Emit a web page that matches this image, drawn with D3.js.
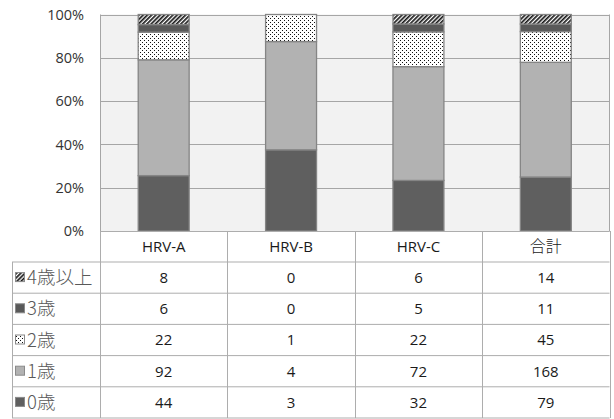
<!DOCTYPE html>
<html>
<head>
<meta charset="utf-8">
<script src="https://cdn.jsdelivr.net/npm/d3@7"></script>
<style>
  html, body { margin: 0; padding: 0; background: #ffffff; }
  svg { display: block; }
</style>
</head>
<body>
<svg id="chart" width="614" height="419"></svg>
<script>
// Categories (columns) and age groups (stack order, bottom to top)
const categories = ["HRV-A", "HRV-B", "HRV-C", "合計"];
const seriesNames = ["0歳", "1歳", "2歳", "3歳", "4歳以上"];

// Counts per age group, in category order
const age0 = [44, 3, 32, 79];
const age1 = [92, 4, 72, 168];
const age2 = [22, 1, 22, 45];
const age3 = [6, 0, 5, 11];
const age4plus = [8, 0, 6, 14];

const yTicks = [0, 0.2, 0.4, 0.6, 0.8, 1.0];

const seriesValues = [age0, age1, age2, age3, age4plus];

const rows = categories.map((c, i) => {
  const r = { category: c };
  seriesNames.forEach((s, k) => { r[s] = seriesValues[k][i]; });
  return r;
});

const svg = d3.select("#chart");
const plot = { left: 100, right: 609.5, top: 14.5, bottom: 231 };
const table = { left: 12, headerBottom: 262, bottom: 418 };

// Fill patterns
const defs = svg.append("defs");
const dots = defs.append("pattern")
  .attr("id", "dots").attr("patternUnits", "userSpaceOnUse")
  .attr("width", 4).attr("height", 4);
dots.append("rect").attr("width", 4).attr("height", 4).attr("fill", "#ffffff");
dots.append("rect").attr("x", 0).attr("y", 0).attr("width", 1).attr("height", 1).attr("fill", "#111");
dots.append("rect").attr("x", 2).attr("y", 2).attr("width", 1).attr("height", 1).attr("fill", "#111");

const hatch = defs.append("pattern")
  .attr("id", "hatch").attr("patternUnits", "userSpaceOnUse")
  .attr("width", 3).attr("height", 3)
  .attr("patternTransform", "rotate(45)");
hatch.append("rect").attr("width", 3).attr("height", 3).attr("fill", "#ffffff");
hatch.append("rect").attr("x", 0).attr("y", 0).attr("width", 1.7).attr("height", 3).attr("fill", "#1a1a1a");

const fills = {
  "0歳": "#5f5f5f",
  "1歳": "#b2b2b2",
  "2歳": "url(#dots)",
  "3歳": "#595959",
  "4歳以上": "url(#hatch)"
};

// Scales
const x = d3.scaleBand().domain(categories).range([plot.left, plot.right]).padding(0);
const y = d3.scaleLinear().domain([0, 1]).range([plot.bottom, plot.top]);

// Plot area background
svg.append("rect")
  .attr("x", plot.left).attr("y", plot.top)
  .attr("width", plot.right - plot.left).attr("height", plot.bottom - plot.top)
  .attr("fill", "#f2f2f2");

// Horizontal gridlines
svg.append("g")
  .selectAll("line")
  .data(yTicks)
  .join("line")
  .attr("x1", plot.left).attr("x2", plot.right)
  .attr("y1", d => Math.round(y(d)) + 0.5).attr("y2", d => Math.round(y(d)) + 0.5)
  .attr("stroke", "#a6a6a6").attr("stroke-width", 1);

// Plot frame sides
svg.append("line")
  .attr("x1", plot.left + 0.5).attr("x2", plot.left + 0.5)
  .attr("y1", plot.top).attr("y2", plot.bottom)
  .attr("stroke", "#a6a6a6");
svg.append("line")
  .attr("x1", plot.right).attr("x2", plot.right)
  .attr("y1", plot.top).attr("y2", plot.bottom)
  .attr("stroke", "#a6a6a6");

// Y axis labels
const yAxis = d3.axisLeft(y).tickValues(yTicks).tickFormat(d3.format(".0%")).tickSize(0).tickPadding(0);
const gy = svg.append("g").attr("transform", `translate(84,0)`).call(yAxis);
gy.select(".domain").remove();
gy.selectAll("text")
  .attr("font-family", "'Open Sans', sans-serif")
  .attr("font-size", 14.5)
  .attr("fill", "#333333");

// 100% stacked bars
const stack = d3.stack().keys(seriesNames).offset(d3.stackOffsetExpand);
const stacked = stack(rows);
const barW = x.bandwidth() * 0.4;

svg.append("g")
  .selectAll("g")
  .data(stacked)
  .join("g")
  .attr("fill", d => fills[d.key])
  .selectAll("rect")
  .data(d => d.filter(p => p[1] - p[0] > 0))
  .join("rect")
  .attr("x", d => x(d.data.category) + (x.bandwidth() - barW) / 2)
  .attr("y", d => y(d[1]))
  .attr("width", barW)
  .attr("height", d => y(d[0]) - y(d[1]))
  .attr("stroke", "#858585")
  .attr("stroke-width", 1.3);

// Data table
const rowOrder = seriesNames.slice().reverse();
const rowH = (table.bottom - table.headerBottom) / rowOrder.length;
const rowY = d3.scaleBand().domain(rowOrder).range([table.headerBottom, table.bottom]);

const tg = svg.append("g");
const lineColor = "#adadad";

// horizontal lines
tg.append("line")
  .attr("x1", table.left).attr("x2", plot.right)
  .attr("y1", table.headerBottom).attr("y2", table.headerBottom)
  .attr("stroke", lineColor);
rowOrder.forEach(s => {
  tg.append("line")
    .attr("x1", table.left).attr("x2", plot.right)
    .attr("y1", rowY(s) + rowH).attr("y2", rowY(s) + rowH)
    .attr("stroke", lineColor);
});
tg.append("line")
  .attr("x1", plot.left).attr("x2", plot.right)
  .attr("y1", plot.bottom + 0.5).attr("y2", plot.bottom + 0.5)
  .attr("stroke", lineColor);

// vertical lines
const colEdges = categories.map(c => x(c)).concat([plot.right]);
colEdges.forEach(cx => {
  tg.append("line")
    .attr("x1", Math.round(cx) + 0.5).attr("x2", Math.round(cx) + 0.5)
    .attr("y1", plot.bottom).attr("y2", table.bottom)
    .attr("stroke", lineColor);
});
tg.append("line")
  .attr("x1", table.left + 0.5).attr("x2", table.left + 0.5)
  .attr("y1", table.headerBottom).attr("y2", table.bottom)
  .attr("stroke", lineColor);

// header labels
tg.selectAll("text.hdr")
  .data(categories)
  .join("text")
  .attr("class", "hdr")
  .attr("x", c => x(c) + x.bandwidth() / 2)
  .attr("y", (plot.bottom + table.headerBottom) / 2)
  .attr("dy", "0.35em")
  .attr("text-anchor", "middle")
  .attr("font-family", c => /[^\x00-\x7F]/.test(c) ? "'Noto Sans CJK JP', sans-serif" : "'Open Sans', sans-serif")
  .attr("font-size", c => /[^\x00-\x7F]/.test(c) ? 16 : 15)
  .attr("font-weight", c => /[^\x00-\x7F]/.test(c) ? 300 : 400)
  .attr("fill", "#1a1a1a")
  .text(c => c);

// row legend keys and labels
rowOrder.forEach(s => {
  const cy = rowY(s) + rowH / 2;
  tg.append("rect")
    .attr("x", 15.5).attr("y", cy - 5)
    .attr("width", 9).attr("height", 9)
    .attr("fill", fills[s])
    .attr("stroke", "#8a8a8a").attr("stroke-width", 1);
  tg.append("text")
    .attr("x", 27).attr("y", cy)
    .attr("dy", "0.36em")
    .attr("font-family", "'Noto Sans CJK JP', sans-serif")
    .attr("font-size", 18.5)
    .attr("font-weight", 300)
    .attr("fill", "#595959")
    .text(s);

  // values for each category
  categories.forEach((c, i) => {
    const v = seriesValues[seriesNames.indexOf(s)][i];
    tg.append("text")
      .attr("x", x(c) + x.bandwidth() / 2)
      .attr("y", cy)
      .attr("dy", "0.36em")
      .attr("text-anchor", "middle")
      .attr("font-family", "'Open Sans', sans-serif")
      .attr("font-size", 15)
      .attr("fill", "#1a1a1a")
      .text(v);
  });
});
</script>
</body>
</html>
